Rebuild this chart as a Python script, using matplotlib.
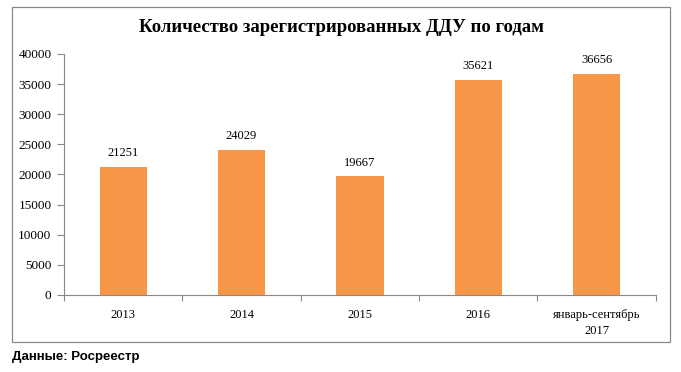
import numpy as np
import matplotlib.pyplot as plt
from matplotlib.patches import Rectangle

# данные
categories = ['2013', '2014', '2015', '2016', 'январь-сентябрь\n2017']
values = [21251, 24029, 19667, 35621, 36656]
yticks = [0, 5000, 10000, 15000, 20000, 25000, 30000, 35000, 40000]

serif = ['Liberation Serif', 'DejaVu Serif']
sans = ['Liberation Sans', 'DejaVu Sans']

fig = plt.figure(figsize=(6.81, 3.72), dpi=100)
ax = fig.add_axes([0.094, 0.207, 0.869, 0.648])

x = np.arange(len(categories))
ax.bar(x, values, width=0.4, color='#F79646', zorder=2)
for xi, v in zip(x, values):
    ax.text(xi, v + 1300, str(v), ha='center', va='bottom',
            fontsize=9, family=serif)

ax.set_xlim(-0.5, len(categories) - 0.5)
ax.set_ylim(0, 40000)
ax.set_yticks(yticks)
ax.set_yticklabels([str(t) for t in yticks], fontsize=9.5, family=serif)

# подписи категорий и деления между ними
ax.set_xticks(np.arange(len(categories) + 1) - 0.5)
ax.set_xticklabels([])
ax.set_xticks(x, minor=True)
ax.set_xticklabels(categories, minor=True, fontsize=9, family=serif,
                   linespacing=1.45, va='top')
ax.tick_params(axis='x', which='minor', length=0, pad=10)
ax.tick_params(axis='x', which='major', length=4, color='#888888', direction='out')
ax.tick_params(axis='y', length=5, color='#888888', pad=4)

for s in ['top', 'right']:
    ax.spines[s].set_visible(False)
for s in ['left', 'bottom']:
    ax.spines[s].set_color('#888888')
    ax.spines[s].set_linewidth(0.8)

fig.text(0.501, 0.925, 'Количество зарегистрированных ДДУ по годам',
         ha='center', va='center', fontsize=13.5, fontweight='bold', family=serif)

# рамка диаграммы
fig.patches.append(Rectangle((0.0176, 0.0806), 0.966, 0.9005, transform=fig.transFigure,
                             fill=False, edgecolor='#888888', linewidth=0.9))

fig.text(0.0176, 0.04, 'Данные: Росреестр', ha='left', va='center',
         fontsize=9.5, fontweight='bold', family=sans)

fig.savefig('out.png', dpi=100)
